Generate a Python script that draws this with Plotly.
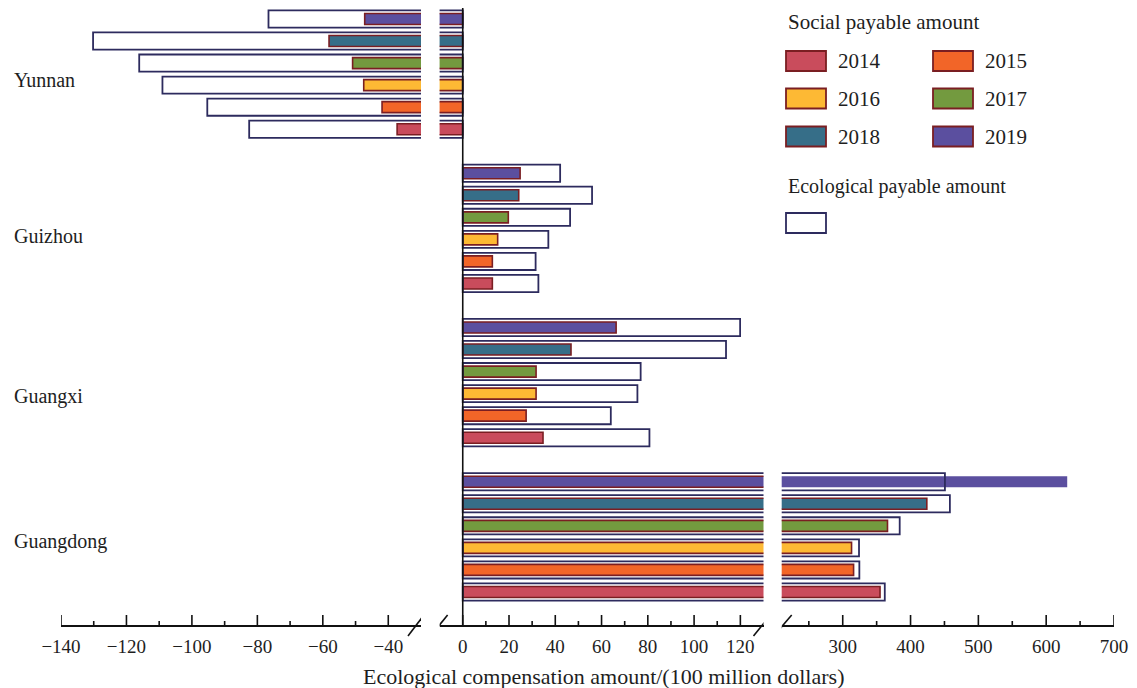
import plotly.graph_objects as go

# ---------------- data ----------------
regions = ["Guangdong", "Guangxi", "Guizhou", "Yunnan"]
years = ["2014", "2015", "2016", "2017", "2018", "2019"]

# Social payable amount (100 million dollars), order = regions
social_2014 = [355.0, 34.7, 12.8, -37.3]
social_2015 = [316.0, 27.4, 12.8, -41.9]
social_2016 = [313.0, 31.7, 15.1, -47.5]
social_2017 = [366.0, 31.7, 19.7, -50.9]
social_2018 = [424.0, 46.8, 24.2, -58.1]
social_2019 = [631.0, 66.3, 24.8, -47.2]

# Ecological payable amount (100 million dollars), order = regions
eco_2014 = [362.0, 80.7, 32.7, -82.5]
eco_2015 = [324.5, 64.0, 31.5, -95.3]
eco_2016 = [324.0, 75.5, 37.0, -109.0]
eco_2017 = [384.0, 76.9, 46.4, -116.1]
eco_2018 = [458.0, 113.8, 55.9, -130.2]
eco_2019 = [450.7, 119.9, 42.1, -76.6]

social = [social_2014, social_2015, social_2016, social_2017, social_2018, social_2019]
ecological = [eco_2014, eco_2015, eco_2016, eco_2017, eco_2018, eco_2019]

left_ticks = [-140, -120, -100, -80, -60, -40]
mid_ticks = [0, 20, 40, 60, 80, 100, 120]
right_ticks = [300, 400, 500, 600, 700]
left_minor = [-130, -110, -90, -70, -50]
mid_minor = [10, 30, 50, 70, 90, 110]
right_minor = [250, 350, 450, 550, 650]

# ---------------- style ----------------
colors = ["#C94C5C", "#F26528", "#FDB934", "#739A3F", "#366E88", "#5B4F9F"]
border = "#7A1E22"
navy = "#2D2B5E"
FONT = "Liberation Serif"
TXT = "#1E1E1E"
AXC = "#111111"

# the page body adds an 8px margin, so the figure is sized/offset to compensate
OFF = 8
W, H = 1129, 680
ML, MR, MT, MB = 53, 23, 0, 63
PW, PH = W - ML - MR, H - MT - MB


def fx(px):
    return (px - OFF - ML) / PW


def fy(py):
    return (OFF + H - MB - py) / PH


def clamp(v):
    return min(1.0, max(0.0, v))


seg_ranges = [(-140, -30), (-10, 130), (210, 700)]
seg_px = [(61, 421), (439.6, 763.5), (781.7, 1114)]
axes = ["x", "x2", "x3"]

GROUP = 7  # 6 years + 1 gap slot per region

fig = go.Figure()

for s, ax in enumerate(axes):
    for k, yr in enumerate(years):
        ys = [g * GROUP + k for g in range(len(regions))]
        lw = 1.6
        if s == 2 and yr == "2019":
            lw = 0
        fig.add_trace(go.Bar(
            x=social[k], y=ys, orientation="h", width=0.5, base=0,
            marker=dict(color=colors[k], line=dict(color=border, width=lw)),
            xaxis=ax, yaxis="y", showlegend=False, hoverinfo="skip"))
    for k, yr in enumerate(years):
        ys = [g * GROUP + k for g in range(len(regions))]
        fig.add_trace(go.Bar(
            x=ecological[k], y=ys, orientation="h", width=0.78, base=0,
            marker=dict(color="rgba(0,0,0,0)", line=dict(color=navy, width=1.8)),
            xaxis=ax, yaxis="y", showlegend=False, hoverinfo="skip"))


def fmt(v):
    return ("\u2212" + str(abs(v))) if v < 0 else str(v)


def xaxis_cfg(i, ticks):
    return dict(
        domain=[clamp(fx(seg_px[i][0])), clamp(fx(seg_px[i][1]))],
        range=list(seg_ranges[i]),
        anchor="y",
        tickmode="array", tickvals=ticks, ticktext=[fmt(v) for v in ticks],
        ticks="", ticklabelstandoff=3,
        showline=True, linecolor=AXC, linewidth=1.6,
        showgrid=False, zeroline=False, layer="above traces",
        tickfont=dict(family=FONT, size=19, color=TXT),
        fixedrange=True,
    )


layout = dict(
    width=W, height=H,
    margin=dict(l=ML, r=MR, t=MT, b=MB, pad=0),
    paper_bgcolor="white", plot_bgcolor="white",
    barmode="overlay",
    xaxis=xaxis_cfg(0, left_ticks),
    xaxis2=xaxis_cfg(1, mid_ticks),
    xaxis3=xaxis_cfg(2, right_ticks),
    yaxis=dict(range=[-1.5, 26.5], showticklabels=False, showline=False,
               showgrid=False, zeroline=False, ticks=""),
    showlegend=False,
)
fig.update_layout(**layout)

shapes = []
# upward (inside) tick marks, placed through each axis' own scale
for ax, majors, minors in [("x", left_ticks, left_minor),
                           ("x2", mid_ticks, mid_minor),
                           ("x3", right_ticks, right_minor)]:
    for v, ln in [(m, 10) for m in majors] + [(m, 4) for m in minors]:
        shapes.append(dict(type="line", xref=ax, yref="paper", x0=v, x1=v,
                           ysizemode="pixel", yanchor=0, y0=0, y1=ln,
                           line=dict(color=AXC, width=1.6), layer="above"))
# vertical zero line
shapes.append(dict(type="line", xref="x2", yref="paper", x0=0, x1=0, y0=0, y1=1,
                   line=dict(color=AXC, width=1.6), layer="above"))
# axis break slashes
for ax, anchor, dx0, dx1 in [("x", -30, -13, 3), ("x2", -10, -9, 8),
                             ("x2", 130, -10, 7), ("x3", 210, -8, 10)]:
    shapes.append(dict(type="line", xref=ax, yref="paper",
                       xsizemode="pixel", xanchor=anchor, x0=dx0, x1=dx1,
                       ysizemode="pixel", yanchor=0, y0=-11, y1=10,
                       line=dict(color=AXC, width=1.6), layer="above"))

annotations = []
# region labels
label_y = [2.3, 8.85, 16.15, 23.25]
for name, yl in zip(regions, label_y):
    annotations.append(dict(text=name, xref="paper", yref="y", x=fx(12), y=yl,
                            xanchor="left", yanchor="middle", showarrow=False,
                            font=dict(family=FONT, size=20, color=TXT)))
# axis title
annotations.append(dict(text="Ecological compensation amount/(100 million dollars)",
                        xref="paper", yref="paper", x=fx(603), y=fy(676),
                        xanchor="center", yanchor="middle", showarrow=False,
                        font=dict(family=FONT, size=22, color=TXT)))

# legend
annotations.append(dict(text="Social payable amount", xref="paper", yref="paper",
                        x=fx(786), y=fy(22), xanchor="left", yanchor="middle",
                        showarrow=False, font=dict(family=FONT, size=21, color=TXT)))
col_x = [786, 933]
row_y = [61, 98.5, 136.5]
for k, yr in enumerate(years):
    cx = col_x[k % 2]
    cy = row_y[k // 2]
    shapes.append(dict(type="rect", xref="paper", yref="paper",
                       x0=fx(cx), x1=fx(cx + 40), y0=fy(cy + 10), y1=fy(cy - 10),
                       fillcolor=colors[k], line=dict(color=border, width=1.8)))
    annotations.append(dict(text=yr, xref="paper", yref="paper",
                            x=fx(cx + 50), y=fy(cy), xanchor="left", yanchor="middle",
                            showarrow=False, font=dict(family=FONT, size=21, color=TXT)))
annotations.append(dict(text="Ecological payable amount", xref="paper", yref="paper",
                        x=fx(786), y=fy(187), xanchor="left", yanchor="middle",
                        showarrow=False, font=dict(family=FONT, size=20, color=TXT)))
shapes.append(dict(type="rect", xref="paper", yref="paper",
                   x0=fx(786), x1=fx(826), y0=fy(233), y1=fy(213),
                   fillcolor="white", line=dict(color=navy, width=1.8)))

fig.update_layout(shapes=shapes, annotations=annotations)
fig.write_html("out.html")
